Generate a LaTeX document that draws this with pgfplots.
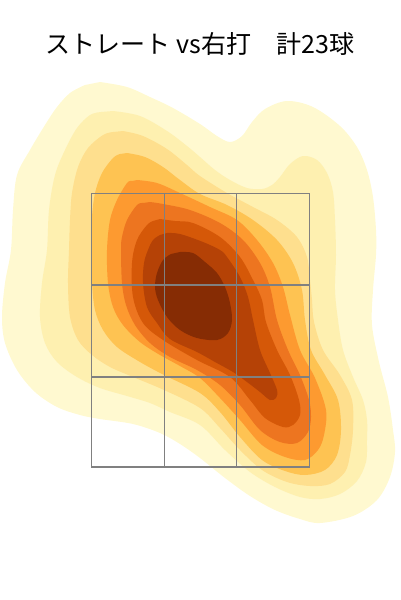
\documentclass[border=0pt]{standalone}
\usepackage{pgfplots}
\pgfplotsset{compat=1.18}
\usepackage{fontspec}
\newfontfamily\cjk{Noto Sans CJK JP}
\definecolor{c1}{RGB}{255,249,208}
\definecolor{c2}{RGB}{254,240,176}
\definecolor{c3}{RGB}{254,223,142}
\definecolor{c4}{RGB}{254,195,82}
\definecolor{c5}{RGB}{253,154,48}
\definecolor{c6}{RGB}{237,117,32}
\definecolor{c7}{RGB}{213,88,8}
\definecolor{c8}{RGB}{181,66,6}
\definecolor{c9}{RGB}{134,44,4}
\definecolor{zone}{RGB}{128,128,128}
\begin{document}
\begin{tikzpicture}
\begin{axis}[
  scale only axis, width=400pt, height=600pt,
  xmin=0, xmax=400, ymin=0, ymax=600, y dir=reverse,
  hide axis, clip=false,
  every axis plot/.append style={draw=none, smooth, tension=0.55},
]
\addplot[draw=none] coordinates {(0,0) (400,600)};
% level 1
\addplot[fill=c1] coordinates {(100,82) (127,87) (150,97) (173,108) (200,124) (217,136) (230,142) (242,136) (252,122) (265,109) (287,101) (313,107) (340,126) (357,147) (367,170) (373,197) (376,230) (376,255) (373,290) (372,325) (379,362) (388,397) (393,430) (395,452) (390,477) (377,500) (353,516) (320,523) (300,519) (275,510) (250,496) (225,478) (200,458) (180,444) (160,433) (133,424) (100,419) (80,415) (57,407) (35,392) (17,370) (5,343) (2,317) (5,283) (11,250) (13,210) (17,175) (30,150) (45,125) (57,107) (70,93) (85,85)} -- cycle;
% level 2
\addplot[fill=c2] coordinates {(113,111) (140,116) (167,131) (187,146) (200,157) (215,170) (230,180) (247,188) (262,189) (272,185) (280,177) (290,164) (303,156) (317,160) (327,173) (333,192) (335,220) (336,255) (335,290) (338,320) (343,350) (353,377) (363,400) (367,420) (367,440) (366,462) (357,481) (340,494) (320,499) (300,497) (275,487) (250,472) (225,450) (200,425) (170,412) (150,403) (127,396) (100,388) (77,377) (57,362) (45,343) (40,317) (42,283) (47,250) (49,210) (55,175) (65,150) (77,128) (90,115) (101,112)} -- cycle;
% level 3
\addplot[fill=c3] coordinates {(123,131) (143,136) (167,149) (187,165) (200,176) (227,193) (253,207) (277,220) (297,237) (307,257) (310,280) (312,300) (314,322) (323,350) (340,375) (352,400) (353,430) (350,455) (345,472) (330,484) (310,486) (287,482) (262,470) (240,450) (220,428) (200,408) (164,390) (133,377) (110,367) (92,355) (78,340) (70,317) (68,283) (69,250) (70,220) (72,193) (78,167) (88,148) (103,135) (113,132)} -- cycle;
% level 4
\addplot[fill=c4] coordinates {(127,153) (145,157) (163,167) (180,180) (200,194) (227,205) (253,220) (277,240) (293,263) (302,290) (305,320) (311,350) (325,375) (338,400) (341,430) (337,455) (325,470) (305,475) (285,471) (262,460) (240,437) (220,412) (200,393) (164,375) (140,362) (117,347) (103,330) (95,310) (92,283) (91,250) (92,217) (95,193) (102,173) (113,158) (120,154)} -- cycle;
% level 5
\addplot[fill=c5] coordinates {(137,180) (157,183) (180,193) (210,207) (237,220) (257,240) (273,263) (283,287) (290,315) (300,350) (315,378) (326,410) (324,435) (318,450) (305,460) (285,457) (262,445) (240,420) (220,398) (200,378) (180,366) (160,355) (140,342) (123,325) (113,307) (108,283) (107,250) (110,220) (117,200) (127,183) (132,181)} -- cycle;
% level 6
\addplot[fill=c6] coordinates {(150,202) (163,204) (190,210) (220,223) (243,240) (260,263) (270,287) (277,320) (288,350) (300,375) (309,400) (311,417) (308,432) (297,443) (280,442) (260,430) (240,405) (220,385) (197,370) (170,357) (150,343) (135,325) (126,305) (122,283) (121,250) (122,237) (127,220) (137,205) (143,203)} -- cycle;
% level 7
\addplot[fill=c7] coordinates {(160,219) (175,221) (193,223) (220,237) (240,257) (253,280) (262,300) (266,322) (277,350) (290,375) (299,400) (300,415) (293,425) (283,427) (265,418) (250,400) (230,377) (197,360) (163,340) (143,323) (133,297) (132,263) (137,240) (147,225) (153,221)} -- cycle;
% level 8
\addplot[fill=c8] coordinates {(167,233) (180,234) (203,242) (220,250) (227,257) (240,277) (248,297) (253,320) (260,350) (270,373) (277,390) (276,398) (270,400) (260,392) (247,382) (233,372) (215,362) (197,352) (170,339) (157,323) (147,307) (143,283) (144,263) (148,250) (153,240) (160,235)} -- cycle;
% level 9
\addplot[fill=c9] coordinates {(180,252) (193,253) (205,262) (217,273) (225,287) (230,303) (232,320) (228,333) (217,340) (197,338) (180,330) (167,317) (158,300) (155,287) (157,273) (163,260) (171,254)} -- cycle;
% strike zone
\addplot[draw=zone, line width=1.5pt, sharp plot] coordinates {(91.3,193.3) (309.3,193.3) (309.3,467) (91.3,467) (91.3,193.3)};
\addplot[draw=zone, line width=1.5pt, sharp plot] coordinates {(164.3,193.3) (164.3,467)};
\addplot[draw=zone, line width=1.5pt, sharp plot] coordinates {(236.5,193.3) (236.5,467)};
\addplot[draw=zone, line width=1.5pt, sharp plot] coordinates {(91.3,285) (309.3,285)};
\addplot[draw=zone, line width=1.5pt, sharp plot] coordinates {(91.3,377) (309.3,377)};
\node[anchor=base, font=\cjk\fontsize{25}{30}\selectfont, inner sep=0pt] at (axis cs:200,53.5) {ストレート vs右打　計23球};
\end{axis}
\end{tikzpicture}
\end{document}
